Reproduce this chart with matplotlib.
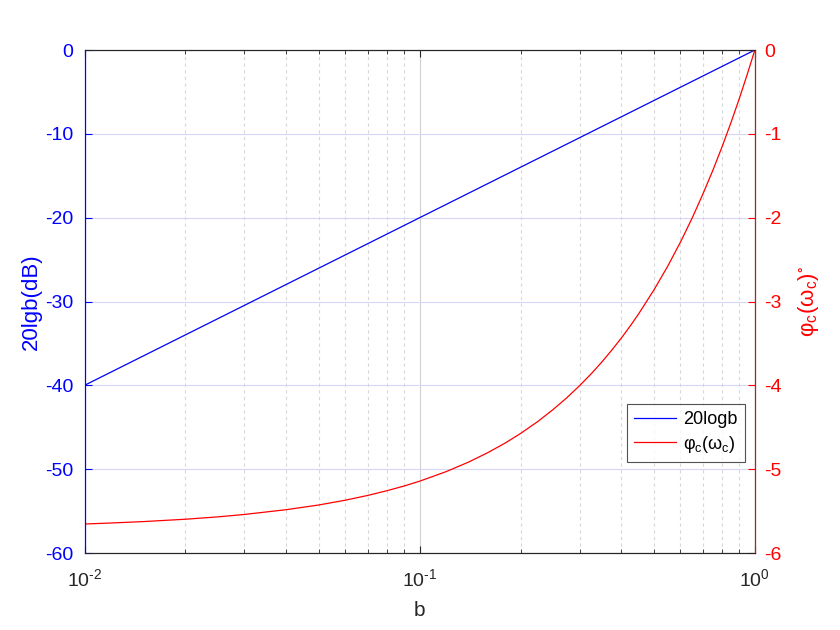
import numpy as np
import matplotlib.pyplot as plt
from matplotlib.ticker import LogLocator, NullFormatter, FuncFormatter

plt.rcParams['font.family'] = ['Liberation Sans', 'DejaVu Sans']
plt.rcParams['mathtext.fontset'] = 'custom'
plt.rcParams['mathtext.rm'] = 'Liberation Sans'
plt.rcParams['mathtext.it'] = 'Liberation Sans'
plt.rcParams['axes.unicode_minus'] = False

# values
b_gain = [0.01, 0.03, 0.1, 0.3, 1.0]
gain_db = [-40.0, -30.46, -20.0, -10.46, 0.0]

b_phase = [0.01, 0.012, 0.015, 0.02, 0.025, 0.03, 0.04, 0.05, 0.06, 0.07,
           0.08, 0.09, 0.1, 0.12, 0.14, 0.16, 0.18, 0.2, 0.225, 0.25, 0.275,
           0.3, 0.325, 0.35, 0.375, 0.4, 0.425, 0.45, 0.5, 0.55, 0.6, 0.65,
           0.7, 0.75, 0.8, 0.85, 0.9, 0.95, 1.0]
phase_deg = [-5.654, -5.642, -5.625, -5.597, -5.569, -5.540, -5.483, -5.427,
             -5.370, -5.313, -5.256, -5.200, -5.143, -5.029, -4.915, -4.801,
             -4.688, -4.574, -4.432, -4.289, -4.147, -4.004, -3.862, -3.719,
             -3.576, -3.434, -3.291, -3.148, -2.862, -2.577, -2.291, -2.005,
             -1.718, -1.432, -1.146, -0.859, -0.573, -0.286, 0.0]

blue = '#0000ff'
red = '#ff0000'
dark = '#262626'


def pow10_label(v, pos):
    e = int(round(np.log10(v)))
    if e < 0:
        return r'$\mathregular{10^{\text{-}%d}}$' % (-e)
    return r'$\mathregular{10^{%d}}$' % e


fig = plt.figure(figsize=(8.4, 6.3), dpi=100)
ax = fig.add_axes([0.1006, 0.1222, 0.798, 0.7984])
ax2 = ax.twinx()

l1, = ax.plot(b_gain, gain_db, color=blue, lw=0.9, label='20logb')
l2, = ax2.plot(b_phase, phase_deg, color=red, lw=0.9,
               label=r'$\mathregular{\varphi_c(\omega_c)}$')

ax.set_xscale('log')
ax.set_xlim(0.01, 1)
ax.set_ylim(-60, 0)
ax2.set_ylim(-6, 0)
ax.set_yticks(np.arange(-60, 1, 10))
ax2.set_yticks(np.arange(-6, 1, 1))
ax.xaxis.set_major_formatter(FuncFormatter(pow10_label))
ax.xaxis.set_minor_locator(LogLocator(base=10, subs=np.arange(2, 10), numticks=20))
ax.xaxis.set_minor_formatter(NullFormatter())

# grid like matlab
ax.grid(True, which='major', axis='x', color='#d0d0d0', lw=0.8, ls='-')
ax.grid(True, which='minor', axis='x', color='#d8d8d8', lw=0.8, ls=(0, (3, 3)))
ax.grid(True, which='major', axis='y', color='#d6d6f6', lw=0.8, ls='-')
ax.set_axisbelow(True)

ax.tick_params(axis='both', which='both', direction='in', top=True, labelsize=14)
ax.tick_params(axis='x', which='major', length=5, colors=dark, pad=11)
ax.tick_params(axis='x', which='minor', length=3, colors=dark)
ax.tick_params(axis='y', length=5, colors=blue, labelcolor=blue, pad=8)
ax2.tick_params(axis='y', direction='in', length=5, colors=red, labelcolor=red,
                labelsize=14, pad=7)

for s in ['top', 'bottom']:
    ax.spines[s].set_color(dark)
    ax2.spines[s].set_color(dark)
ax2.spines['left'].set_color(blue)
ax2.spines['right'].set_color(red)
ax.spines['left'].set_color(blue)

ax.set_xlabel('b', fontsize=15, color=dark, labelpad=8)
ax.set_ylabel('20lgb(dB)', fontsize=16, color=blue, labelpad=2)
ax2.set_ylabel(r'$\mathregular{\varphi_c(\omega_c)^{\circ}}$', fontsize=16,
               color=red, labelpad=10)

leg = ax2.legend(handles=[l1, l2], loc='lower right', bbox_to_anchor=(0.985, 0.181),
                 fontsize=13, frameon=True, fancybox=False, edgecolor=dark,
                 handlelength=2.3, handletextpad=0.4, borderpad=0.4,
                 labelspacing=0.3, borderaxespad=0)
leg.get_frame().set_linewidth(0.8)

fig.savefig('out.png', dpi=100)
